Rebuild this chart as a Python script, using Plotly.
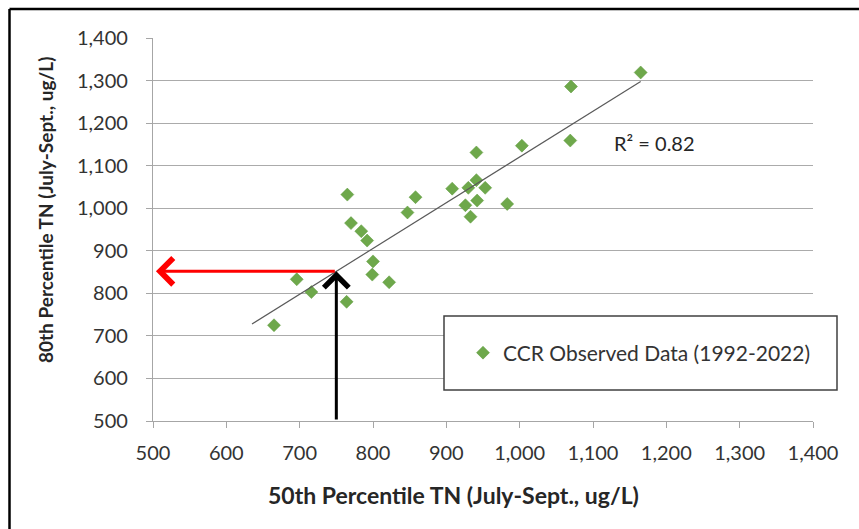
import numpy as np
import plotly.graph_objects as go

# ---- data ----
tn50 = [1165, 1070, 1069, 1003, 941, 765, 858, 908, 930, 941, 953, 926, 942,
        983, 933, 847, 770, 784, 792, 800, 799, 822, 696, 716, 764, 665]
tn80 = [1319, 1286, 1159, 1147, 1131, 1032, 1026, 1046, 1048, 1066, 1048, 1007, 1018,
        1010, 980, 990, 965, 946, 924, 875, 844, 826, 833, 803, 780, 725]
trend_x = [635, 1165]          # trendline ends as drawn in the chart
trend_y = [728, 1298]
target_tn50 = 750
axis_ticks = list(range(500, 1401, 100))
series_name = "CCR Observed Data (1992-2022)"
r2_label = "R² = 0.82"

target_tn80 = float(np.interp(target_tn50, trend_x, trend_y))

W, H = 859, 529
L, R, T, B = 153, 46, 38, 108
pw, ph = W - L - R, H - T - B
def px(x):
    return (x - L) / pw
def py(y):
    return (H - B - y) / ph

FONT = "Lato"
fig = go.Figure()
fig.add_trace(go.Scatter(
    x=tn50, y=tn80, mode="markers", name=series_name,
    marker=dict(symbol="diamond", size=10, color="#6EA84B",
                line=dict(color="#5F9A3F", width=0.5)),
))
fig.add_trace(go.Scatter(
    x=trend_x, y=trend_y, mode="lines", showlegend=False,
    line=dict(color="#5A5A5A", width=1.2), hoverinfo="skip",
))

annotations = [
    dict(x=504, y=target_tn80, ax=target_tn50, ay=target_tn80, xref="x", yref="y",
         axref="x", ayref="y", text="", showarrow=True, arrowhead=4, arrowsize=1.7,
         arrowwidth=3, arrowcolor="#FF0000"),
    dict(x=target_tn50, y=target_tn80, ax=target_tn50, ay=500, xref="x", yref="y",
         axref="x", ayref="y", text="", showarrow=True, arrowhead=4, arrowsize=1.6,
         arrowwidth=3, arrowcolor="#000000"),
    dict(x=1126, y=1154, xref="x", yref="y", text=r2_label, showarrow=False,
         xanchor="left", yanchor="middle", font=dict(family=FONT, size=20, color="#262626")),
    dict(x=px(453), y=py(495), xref="paper", yref="paper",
         text="<b>50th Percentile TN (July-Sept., ug/L)</b>", showarrow=False,
         xanchor="center", yanchor="middle", font=dict(family=FONT, size=23, color="#262626")),
    dict(x=px(45), y=py(210), xref="paper", yref="paper", textangle=-90,
         text="<b>80th Percentile TN (July-Sept., ug/L)</b>", showarrow=False,
         xanchor="center", yanchor="middle", font=dict(family=FONT, size=19, color="#262626")),
]

shapes = [
    dict(type="rect", xref="paper", yref="paper", x0=px(444), x1=px(837), y0=py(390), y1=py(316),
         line=dict(color="#404040", width=1.5), fillcolor="white", layer="above"),
    dict(type="line", xref="paper", yref="paper", x0=px(9.5), x1=px(870), y0=py(9), y1=py(9),
         line=dict(color="#000000", width=2.5)),
    dict(type="line", xref="paper", yref="paper", x0=px(9.5), x1=px(9.5), y0=py(9), y1=py(540),
         line=dict(color="#000000", width=2.5)),
]

axis_common = dict(
    range=[500, 1400], tickvals=axis_ticks, tickformat=",", showline=True,
    linecolor="#A6A6A6", linewidth=1.2, ticks="outside", ticklen=6, tickcolor="#A6A6A6",
    tickfont=dict(family=FONT, size=20, color="#333333"), zeroline=False,
)
fig.update_layout(
    width=W, height=H, margin=dict(l=L, r=R, t=T, b=B, autoexpand=False),
    paper_bgcolor="white", plot_bgcolor="white",
    xaxis=dict(**axis_common, showgrid=False, ticklabelstandoff=8),
    yaxis=dict(**axis_common, showgrid=True, gridcolor="#ABABAB", gridwidth=1.2,
               ticklabelstandoff=14),
    showlegend=True,
    legend=dict(x=px(463), y=py(353), xanchor="left", yanchor="middle",
                bgcolor="rgba(0,0,0,0)", font=dict(family=FONT, size=21, color="#333333")),
    annotations=annotations, shapes=shapes,
)
fig.write_html("out.html")
